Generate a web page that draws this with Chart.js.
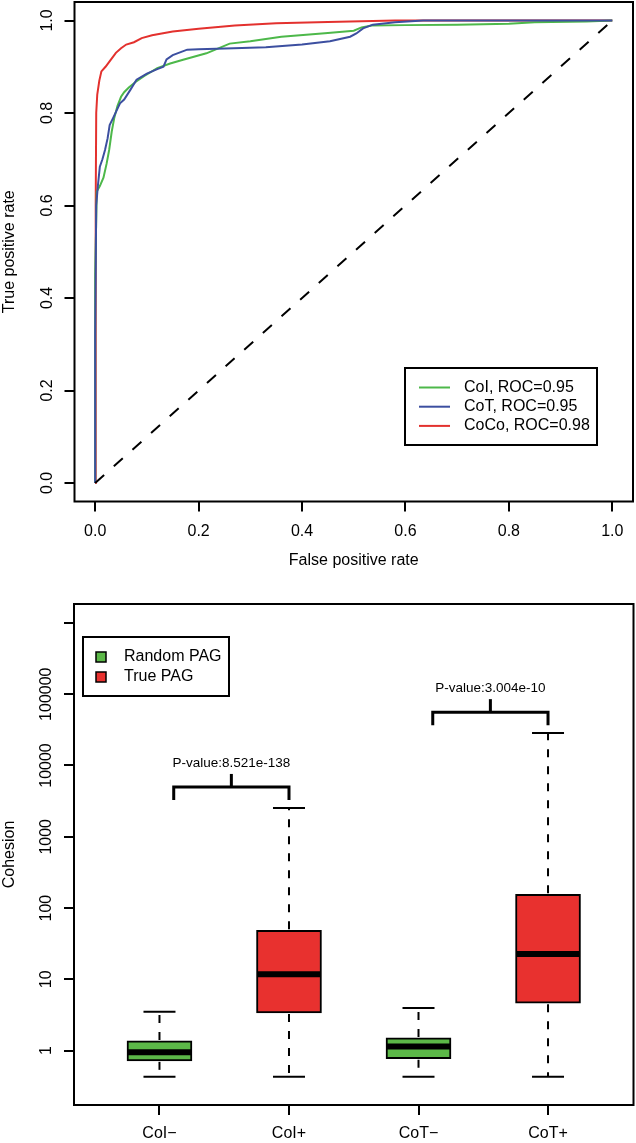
<!DOCTYPE html>
<html>
<head>
<meta charset="utf-8">
<script src="https://cdn.jsdelivr.net/npm/chart.js@4.4.1/dist/chart.umd.min.js"></script>
<style>
  html, body { margin: 0; padding: 0; background: #fff; }
  #wrap { position: relative; width: 636px; height: 1143px; }
  #rocChart { position: absolute; left: 0; top: 0; }
  #boxChart { position: absolute; left: 0; top: 580px; }
</style>
</head>
<body>
<div id="wrap">
  <canvas id="rocChart" width="636" height="580"></canvas>
  <canvas id="boxChart" width="636" height="563"></canvas>
</div>
<script>
// ROC curves, points (fpr, tpr)
var fprCoI  = [0, 0, 0.003, 0.009, 0.016, 0.022, 0.027, 0.032, 0.037, 0.043, 0.05, 0.056, 0.065, 0.078, 0.095, 0.12, 0.145, 0.17, 0.215, 0.26, 0.3, 0.36, 0.45, 0.5, 0.515, 0.535, 0.6, 0.7, 0.8, 0.85, 0.95, 1];
var tprCoI  = [0, 0.45, 0.63, 0.642, 0.66, 0.69, 0.72, 0.76, 0.79, 0.815, 0.835, 0.845, 0.855, 0.867, 0.88, 0.897, 0.907, 0.915, 0.929, 0.95, 0.955, 0.965, 0.973, 0.978, 0.985, 0.989, 0.99, 0.991, 0.993, 0.996, 0.998, 1];
var fprCoT  = [0, 0, 0.002, 0.005, 0.009, 0.014, 0.019, 0.024, 0.028, 0.035, 0.048, 0.056, 0.068, 0.08, 0.1, 0.12, 0.132, 0.138, 0.15, 0.178, 0.2, 0.268, 0.33, 0.4, 0.454, 0.493, 0.505, 0.518, 0.537, 0.58, 0.634, 1];
var tprCoT  = [0, 0.32, 0.6, 0.64, 0.684, 0.7, 0.72, 0.745, 0.774, 0.79, 0.821, 0.829, 0.85, 0.872, 0.885, 0.895, 0.9, 0.916, 0.925, 0.937, 0.938, 0.94, 0.942, 0.948, 0.955, 0.965, 0.972, 0.983, 0.991, 0.996, 1, 1];
var fprCoCo = [0, 0.001, 0.002, 0.004, 0.008, 0.012, 0.02, 0.03, 0.04, 0.05, 0.06, 0.075, 0.09, 0.11, 0.15, 0.2, 0.27, 0.35, 0.45, 0.58, 1];
var tprCoCo = [0, 0.6, 0.8, 0.84, 0.87, 0.89, 0.9, 0.915, 0.93, 0.94, 0.948, 0.953, 0.962, 0.968, 0.976, 0.982, 0.989, 0.994, 0.997, 1, 1];
var rocNames  = ["CoI, ROC=0.95", "CoT, ROC=0.95", "CoCo, ROC=0.98"];
var rocColors = ["#4db84a", "#3c4fa0", "#e3312e"];
var rocTicks  = [0, 0.2, 0.4, 0.6, 0.8, 1];

// cohesion boxplots (log scale)
var groups      = ["CoI\u2212", "CoI+", "CoT\u2212", "CoT+"];
var whiskerLow  = [0.43, 0.43, 0.43, 0.43];
var q1          = [0.72, 3.38, 0.77, 4.62];
var median      = [0.95, 11.8, 1.14, 22.7];
var q3          = [1.37, 48.8, 1.51, 156];
var whiskerHigh = [3.52, 2535, 3.97, 28600];
var boxColors   = ["#5cb848", "#e8312f", "#5cb848", "#e8312f"];
var legendNames  = ["Random PAG", "True PAG"];
var legendColors = ["#5cb848", "#e8312f"];
var cohesionTicks = [1, 10, 100, 1000, 10000, 100000, 1000000];
var bracketLeft  = [1.11, 3.11];
var bracketRight = [2, 4];
var bracketY     = [5000, 56000];
var pLabels      = ["P-value:8.521e-138", "P-value:3.004e-10"];

var FONT = "'Liberation Sans', Arial, Helvetica, sans-serif";
Chart.defaults.font.family = FONT;
Chart.defaults.font.size = 16;
Chart.defaults.color = "#000";

function xy(xs, ys) {
    return xs.map(function (x, i) { return { x: x, y: ys[i] }; });
}

function line(ctx, x1, y1, x2, y2) {
    ctx.beginPath();
    ctx.moveTo(x1, y1);
    ctx.lineTo(x2, y2);
    ctx.stroke();
}

// R look: box round the plot + y tick labels turned along the axis
var rFrame = {
    id: "rFrame",
    afterDraw: function (chart, args, opts) {
        var ctx = chart.ctx, a = chart.chartArea, y = chart.scales.y;
        ctx.save();
        ctx.strokeStyle = "#000";
        ctx.lineWidth = 2;
        ctx.strokeRect(a.left, a.top, a.right - a.left, a.bottom - a.top);
        ctx.fillStyle = "#000";
        ctx.font = "16px " + FONT;
        ctx.textAlign = "center";
        ctx.textBaseline = "middle";
        y.ticks.forEach(function (t) {
            var label = opts.label(t.value);
            if (!label) return;
            ctx.save();
            ctx.translate(a.left - 27, y.getPixelForValue(t.value));
            ctx.rotate(-Math.PI / 2);
            ctx.fillText(label, 0, 0);
            ctx.restore();
        });
        ctx.restore();
    }
};

function axisGrid() {
    return { offset: false, drawOnChartArea: false, drawTicks: true, tickLength: 10, lineWidth: 2, color: "#000" };
}

// ---------- top: ROC ----------
var rocLegend = {
    id: "rocLegend",
    afterDraw: function (chart) {
        var ctx = chart.ctx;
        var left = 405, top = 368, w = 192, h = 77, row = 19.2;
        ctx.save();
        ctx.fillStyle = "#fff";
        ctx.fillRect(left, top, w, h);
        ctx.strokeStyle = "#000";
        ctx.lineWidth = 2;
        ctx.strokeRect(left, top, w, h);
        ctx.font = "16px " + FONT;
        ctx.textBaseline = "middle";
        ctx.textAlign = "left";
        rocNames.forEach(function (name, i) {
            var yy = top + 19.5 + i * row;
            ctx.strokeStyle = rocColors[i];
            line(ctx, left + 14, yy, left + 45, yy);
            ctx.fillStyle = "#000";
            ctx.fillText(name, left + 59, yy);
        });
        ctx.restore();
    }
};

var rocSeries = [xy(fprCoI, tprCoI), xy(fprCoT, tprCoT), xy(fprCoCo, tprCoCo)];
var rocOrder = [2, 1, 3];
var rocDatasets = rocSeries.map(function (pts, i) {
    return {
        label: rocNames[i], data: pts, showLine: true, pointRadius: 0,
        borderColor: rocColors[i], borderWidth: 2, fill: false, order: rocOrder[i]
    };
});
rocDatasets.push({
    label: "chance", data: xy([0, 1], [0, 1]), showLine: true, pointRadius: 0,
    borderColor: "#000", borderWidth: 2, borderDash: [12, 13], order: 0
});

new Chart(document.getElementById("rocChart"), {
    type: "scatter",
    data: { datasets: rocDatasets },
    options: {
        responsive: false,
        animation: false,
        layout: { padding: { left: 0, right: 3, top: 2, bottom: 10 } },
        plugins: {
            legend: { display: false },
            tooltip: { enabled: false },
            rFrame: { label: function (v) { return v.toFixed(1); } }
        },
        scales: {
            x: {
                type: "linear", min: -0.04, max: 1.04,
                afterBuildTicks: function (s) { s.ticks = rocTicks.map(function (v) { return { value: v }; }); },
                afterFit: function (s) { s.height = 68.5; },
                grid: axisGrid(),
                border: { display: false },
                ticks: { padding: 10.6, maxRotation: 0, callback: function (v) { return v.toFixed(1); } },
                title: { display: true, text: "False positive rate", padding: 0 }
            },
            y: {
                type: "linear", min: -0.04, max: 1.04,
                afterBuildTicks: function (s) { s.ticks = rocTicks.map(function (v) { return { value: v }; }); },
                afterFit: function (s) { s.width = 74.5; },
                grid: axisGrid(),
                border: { display: false },
                ticks: { display: false },
                title: { display: true, text: "True positive rate", padding: 0 }
            }
        }
    },
    plugins: [rFrame, rocLegend]
});

// ---------- bottom: cohesion boxplots ----------
var boxExtras = {
    id: "boxExtras",
    afterDatasetsDraw: function (chart) {
        var ctx = chart.ctx, xs = chart.scales.x, ys = chart.scales.y;
        ctx.save();
        ctx.strokeStyle = "#000";
        ctx.lineCap = "butt";
        groups.forEach(function (g, i) {
            var cx = xs.getPixelForValue(i + 1);
            var lo = ys.getPixelForValue(whiskerLow[i]);
            var hi = ys.getPixelForValue(whiskerHigh[i]);
            var b1 = ys.getPixelForValue(q1[i]);
            var b3 = ys.getPixelForValue(q3[i]);
            ctx.lineWidth = 2;
            ctx.setLineDash([8, 9]);
            line(ctx, cx, b3 - 1, cx, hi);
            line(ctx, cx, b1 + 1, cx, lo);
            ctx.setLineDash([]);
            line(ctx, cx - 16, hi, cx + 16, hi);
            line(ctx, cx - 16, lo, cx + 16, lo);
            ctx.lineWidth = 6;
            var m = ys.getPixelForValue(median[i]);
            line(ctx, cx - 32, m, cx + 32, m);
        });

        // significance brackets
        ctx.lineWidth = 3;
        ctx.font = "13.5px " + FONT;
        ctx.fillStyle = "#000";
        ctx.textAlign = "center";
        ctx.textBaseline = "middle";
        pLabels.forEach(function (txt, i) {
            var xl = xs.getPixelForValue(bracketLeft[i]);
            var xr = xs.getPixelForValue(bracketRight[i]);
            var xm = (xl + xr) / 2;
            var yb = ys.getPixelForValue(bracketY[i]);
            ctx.beginPath();
            ctx.moveTo(xl, yb + 13);
            ctx.lineTo(xl, yb);
            ctx.lineTo(xr, yb);
            ctx.lineTo(xr, yb + 13);
            ctx.stroke();
            line(ctx, xm, yb, xm, yb - 13);
            ctx.fillText(txt, xm, yb - 24);
        });
        ctx.restore();
    },
    afterDraw: function (chart) {
        var ctx = chart.ctx;
        var left = 83, top = 637, w = 146, h = 59;
        ctx.save();
        ctx.strokeStyle = "#000";
        ctx.lineWidth = 2;
        ctx.strokeRect(left, top - 580, w, h);
        ctx.font = "16px " + FONT;
        ctx.textBaseline = "middle";
        ctx.textAlign = "left";
        legendNames.forEach(function (name, i) {
            var yy = top - 580 + 20 + i * 20;
            ctx.fillStyle = legendColors[i];
            ctx.fillRect(left + 13, yy - 5, 10, 10);
            ctx.lineWidth = 1.5;
            ctx.strokeRect(left + 13, yy - 5, 10, 10);
            ctx.fillStyle = "#000";
            ctx.fillText(name, left + 41, yy);
        });
        ctx.restore();
    }
};

new Chart(document.getElementById("boxChart"), {
    type: "bar",
    data: {
        datasets: [{
            label: "Cohesion",
            data: groups.map(function (g, i) { return { x: i + 1, y: [q1[i], q3[i]] }; }),
            backgroundColor: boxColors,
            borderColor: "#000",
            borderWidth: 2,
            borderSkipped: false,
            barThickness: 65
        }]
    },
    options: {
        responsive: false,
        animation: false,
        layout: { padding: { left: 0, right: 2.5, top: 24, bottom: 0 } },
        plugins: {
            legend: { display: false },
            tooltip: { enabled: false },
            rFrame: { label: function (v) { return v >= 1000000 ? "" : String(v); } }
        },
        scales: {
            x: {
                type: "linear", min: 0.34, max: 4.66, offset: false,
                afterBuildTicks: function (s) { s.ticks = groups.map(function (g, i) { return { value: i + 1 }; }); },
                afterFit: function (s) { s.height = 38; },
                grid: axisGrid(),
                border: { display: false },
                ticks: { padding: 8.7, maxRotation: 0, callback: function (v) { return groups[v - 1]; } }
            },
            y: {
                type: "logarithmic", min: 0.173, max: 1840000,
                afterBuildTicks: function (s) { s.ticks = cohesionTicks.map(function (v) { return { value: v }; }); },
                afterFit: function (s) { s.width = 74; },
                grid: axisGrid(),
                border: { display: false },
                ticks: { display: false },
                title: { display: true, text: "Cohesion", padding: 0 }
            }
        }
    },
    plugins: [rFrame, boxExtras]
});
</script>
</body>
</html>
